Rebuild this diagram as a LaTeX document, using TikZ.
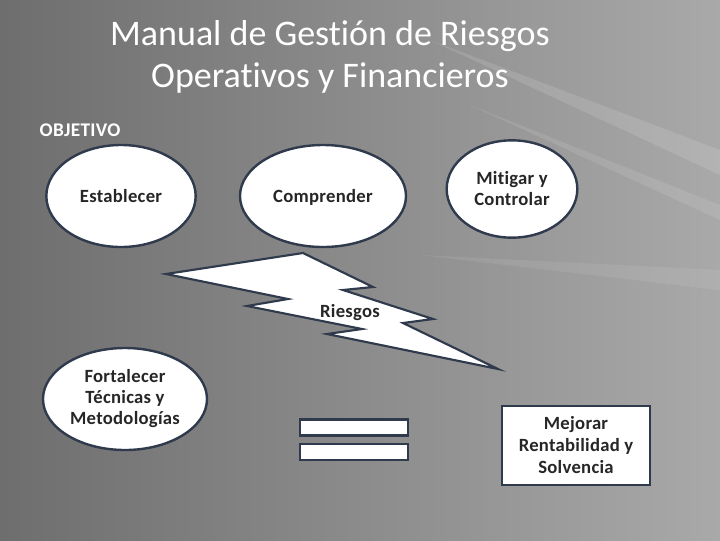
\documentclass[tikz,border=0pt]{standalone}
\usepackage{fontspec}
\setmainfont{Carlito}[Ligatures=NoCommon]
\newfontfamily\etiqueta{Carlito}[Ligatures=NoCommon,LetterSpace=1.5]
\usetikzlibrary{shapes.geometric}
\definecolor{borde}{HTML}{2F3A4C}
\definecolor{texto}{HTML}{262626}
\definecolor{fondoA}{HTML}{6E6E6E}
\definecolor{fondoB}{HTML}{A9A9A9}
\tikzset{
  ovalo/.style={ellipse,draw=borde,line width=1.8pt,fill=white,inner sep=0pt,
    text=texto,align=center,font=\etiqueta\bfseries\fontsize{14}{15.75}\selectfont},
  caja/.style={rectangle,draw=borde,line width=1.8pt,fill=white,inner sep=0pt,
    text=texto,align=center,font=\etiqueta\bfseries\fontsize{14}{16.5}\selectfont},
  barra/.style={rectangle,draw=borde,line width=1.8pt,fill=white,inner sep=0pt,
    minimum width=81pt,minimum height=12pt}
}
\begin{document}
\begin{tikzpicture}[x=0.75pt,y=-0.75pt]
	\useasboundingbox (0,0) rectangle (720,540);
	% fondo
	\shade[left color=fondoA,right color=fondoB] (0,0) rectangle (720,540);
	\fill[white,opacity=0.12] (720,150) -- (430,40) -- (720,175) -- cycle;
	\fill[white,opacity=0.10] (720,205) -- (470,105) -- (720,220) -- cycle;
	\fill[white,opacity=0.08] (720,270) -- (420,255) -- (720,290) -- cycle;
	% titulo
	\node[text=white,align=center,font=\fontsize{27}{31.5}\selectfont] (titulo) at (330,57)
		{Manual de Gestión de Riesgos\\Operativos y Financieros};
	\node[text=white,font=\etiqueta\bfseries\fontsize{14.5}{16}\selectfont,anchor=west] (objetivo) at (35,130) {OBJETIVO};
	% objetivos
	\node[ovalo,minimum width=112pt,minimum height=76.5pt] (establecer) at (121,196) {Establecer};
	\node[ovalo,minimum width=124.5pt,minimum height=76.5pt,text depth=0pt] (comprender) at (323,196) {Comprender};
	\node[ovalo,minimum width=98pt,minimum height=73pt] (mitigar) at (512,189) {Mitigar y\\Controlar};
	\node[ovalo,minimum width=123pt,minimum height=76.5pt] (fortalecer) at (125,399) {Fortalecer\\Técnicas y\\Metodologías};
	% rayo
	\draw[borde,line width=1.6pt,fill=white,line join=miter] (166,274) -- (303,253) -- (373,287) -- (343,290)
		-- (433,319) -- (403,323) -- (498,369) -- (327,334) -- (362,329) -- (247,306) -- (288,299) -- cycle;
	\node[text=texto,font=\etiqueta\bfseries\fontsize{14}{16}\selectfont] (riesgos) at (350,313) {Riesgos};
	% igual
	\node[barra] (igualA) at (354,427.5) {};
	\node[barra] (igualB) at (354,452) {};
	\node[caja,minimum width=111pt,minimum height=59pt] (mejorar) at (576,445.5) {Mejorar\\Rentabilidad y\\Solvencia};
\end{tikzpicture}
\end{document}
